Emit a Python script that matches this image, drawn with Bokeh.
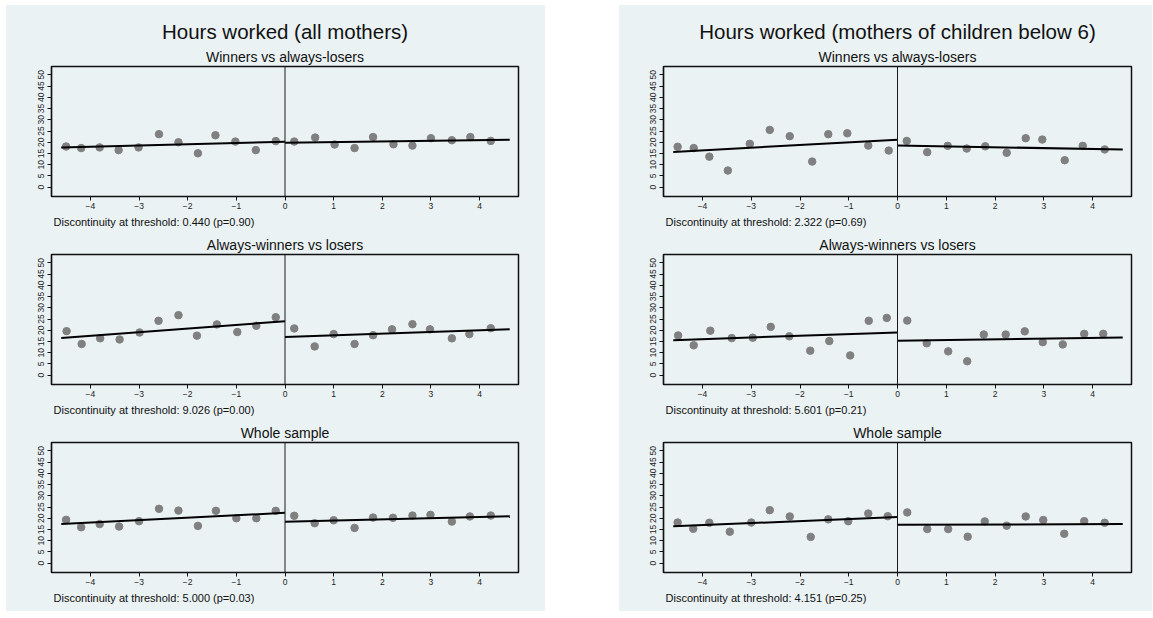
from bokeh.plotting import figure
from bokeh.layouts import row, column
from bokeh.models import Title, Span, FixedTicker, Spacer
from bokeh.embed import file_html
from bokeh.resources import INLINE

BG = "#EAF2F3"
FONT = "Liberation Sans"
DOT = "#808080"

# ---------------- data ----------------
panel_titles = ["Hours worked (all mothers)", "Hours worked (mothers of children below 6)"]
sub_titles = ["Winners vs always-losers", "Always-winners vs losers", "Whole sample"]
x_ticks = [-4, -3, -2, -1, 0, 1, 2, 3, 4]
y_ticks = [0, 5, 10, 15, 20, 25, 30, 35, 40, 45, 50]
fit_x_left = [-4.6, 0.0]
fit_x_right = [0.0, 4.62]

# all mothers
a1_xl = [-4.50, -4.19, -3.81, -3.42, -3.01, -2.59, -2.19, -1.79, -1.43, -1.02, -0.60, -0.19]
a1_yl = [18.1, 17.4, 17.7, 16.5, 17.7, 23.6, 20.0, 15.1, 23.1, 20.3, 16.5, 20.5]
a1_xr = [0.19, 0.62, 1.02, 1.43, 1.81, 2.23, 2.62, 3.00, 3.43, 3.81, 4.23]
a1_yr = [20.3, 22.1, 19.0, 17.4, 22.3, 19.1, 18.5, 21.8, 20.9, 22.3, 20.6]
a1_fit_l = [17.7, 20.2]
a1_fit_r = [19.8, 21.1]
a1_disc = "Discontinuity at threshold: 0.440 (p=0.90)"

a2_xl = [-4.49, -4.18, -3.80, -3.40, -2.99, -2.60, -2.19, -1.81, -1.40, -0.98, -0.59, -0.19]
a2_yl = [19.6, 13.9, 16.4, 15.9, 19.0, 24.2, 26.7, 17.6, 22.6, 19.2, 22.0, 25.8]
a2_xr = [0.19, 0.61, 1.00, 1.43, 1.81, 2.20, 2.62, 2.98, 3.43, 3.79, 4.23]
a2_yr = [20.8, 12.8, 18.3, 13.9, 17.8, 20.4, 22.7, 20.4, 16.4, 18.3, 20.9]
a2_fit_l = [16.5, 24.0]
a2_fit_r = [17.0, 20.4]
a2_disc = "Discontinuity at threshold: 9.026 (p=0.00)"

a3_xl = [-4.50, -4.19, -3.81, -3.41, -3.00, -2.59, -2.19, -1.79, -1.42, -1.00, -0.59, -0.19]
a3_yl = [19.3, 16.0, 17.4, 16.3, 18.7, 24.2, 23.4, 16.6, 23.3, 20.0, 20.0, 23.3]
a3_xr = [0.19, 0.61, 1.00, 1.43, 1.81, 2.22, 2.62, 2.99, 3.43, 3.80, 4.23]
a3_yr = [21.1, 17.8, 19.1, 15.7, 20.3, 20.2, 21.2, 21.5, 18.5, 20.8, 21.2]
a3_fit_l = [17.4, 22.4]
a3_fit_r = [18.4, 20.9]
a3_disc = "Discontinuity at threshold: 5.000 (p=0.03)"

# mothers of children below 6
b1_xl = [-4.51, -4.18, -3.86, -3.48, -3.03, -2.62, -2.21, -1.75, -1.42, -1.03, -0.60, -0.18]
b1_yl = [18.0, 17.4, 13.6, 7.4, 19.3, 25.5, 22.7, 11.4, 23.6, 24.0, 18.5, 16.3]
b1_xr = [0.19, 0.61, 1.03, 1.42, 1.80, 2.24, 2.63, 2.97, 3.43, 3.80, 4.25]
b1_yr = [20.6, 15.6, 18.4, 17.2, 18.2, 15.3, 21.8, 21.2, 12.0, 18.4, 16.8]
b1_fit_l = [15.7, 21.1]
b1_fit_r = [18.5, 16.8]
b1_disc = "Discontinuity at threshold: 2.322 (p=0.69)"

b2_xl = [-4.50, -4.18, -3.84, -3.40, -2.97, -2.60, -2.22, -1.79, -1.40, -0.97, -0.59, -0.22]
b2_yl = [17.7, 13.3, 19.8, 16.5, 16.7, 21.5, 17.3, 10.9, 15.2, 8.8, 24.2, 25.5]
b2_xr = [0.20, 0.60, 1.04, 1.43, 1.77, 2.22, 2.61, 2.98, 3.39, 3.83, 4.22]
b2_yr = [24.3, 14.2, 10.6, 6.2, 18.1, 18.1, 19.5, 14.7, 13.7, 18.4, 18.4]
b2_fit_l = [15.6, 19.0]
b2_fit_r = [15.3, 16.8]
b2_disc = "Discontinuity at threshold: 5.601 (p=0.21)"

b3_xl = [-4.51, -4.19, -3.86, -3.44, -3.00, -2.62, -2.21, -1.78, -1.42, -1.01, -0.60, -0.20]
b3_yl = [18.1, 15.3, 18.0, 14.0, 18.1, 23.6, 20.8, 11.7, 19.5, 18.7, 22.1, 20.9]
b3_xr = [0.20, 0.61, 1.04, 1.44, 1.79, 2.24, 2.63, 2.99, 3.42, 3.83, 4.25]
b3_yr = [22.6, 15.2, 15.2, 11.8, 18.6, 16.7, 20.8, 19.2, 13.1, 18.7, 18.0]
b3_fit_l = [16.4, 20.5]
b3_fit_r = [17.1, 17.4]
b3_disc = "Discontinuity at threshold: 4.151 (p=0.25)"


def make_sub(xl, yl, xr, yr, fit_l, fit_r, subtitle, disc, main=None,
             frame_w=467, left=45, right=27, top=20, bottom=37):
    p = figure(frame_width=frame_w, frame_height=130, x_range=(-4.8, 4.8),
               y_range=(-4.14, 53.7), output_backend="svg", toolbar_location=None,
               title=None, min_border_left=left, min_border_right=right,
               min_border_top=top, min_border_bottom=bottom)
    p.background_fill_color = BG
    p.border_fill_color = BG
    p.outline_line_color = "#111111"
    p.outline_line_width = 1.5
    p.grid.visible = False

    p.add_layout(Title(text=subtitle, align="center", text_font=FONT,
                       text_font_size="14px", text_font_style="normal",
                       text_color="#111111", standoff=3), "above")
    if main is not None:
        p.add_layout(Title(text=main, align="center", text_font=FONT,
                           text_font_size="20.5px", text_font_style="normal",
                           text_color="#111111", standoff=6), "above")
    p.add_layout(Title(text=disc, align="left", text_font=FONT,
                       text_font_size="11px", text_font_style="normal",
                       text_color="#111111", standoff=5, offset=2), "below")

    for ax in (p.xaxis[0], p.yaxis[0]):
        ax.axis_line_color = "#111111"
        ax.axis_line_width = 1.2
        ax.major_tick_line_color = "#111111"
        ax.major_tick_out = 4
        ax.major_tick_in = 0
        ax.minor_tick_line_color = None
        ax.major_label_text_font = FONT
        ax.major_label_text_font_size = "8.5px"
        ax.major_label_text_color = "#222222"
        ax.major_label_standoff = 2
    p.xaxis[0].ticker = FixedTicker(ticks=x_ticks)
    p.yaxis[0].ticker = FixedTicker(ticks=y_ticks)
    p.yaxis[0].major_label_orientation = "vertical"
    p.yaxis[0].major_label_standoff = 3

    p.add_layout(Span(location=0, dimension="height", line_color="#1a1a1a", line_width=1))

    p.scatter(xl, yl, size=7.5, color=DOT, line_color=DOT)
    p.scatter(xr, yr, size=7.5, color=DOT, line_color=DOT)
    p.line(fit_x_left, fit_l, line_color="black", line_width=2)
    p.line(fit_x_right, fit_r, line_color="black", line_width=2)
    return p


# left column
pa1 = make_sub(a1_xl, a1_yl, a1_xr, a1_yr, a1_fit_l, a1_fit_r, sub_titles[0], a1_disc,
               main=panel_titles[0], top=61, bottom=37)
pa2 = make_sub(a2_xl, a2_yl, a2_xr, a2_yr, a2_fit_l, a2_fit_r, sub_titles[1], a2_disc,
               top=20, bottom=37)
pa3 = make_sub(a3_xl, a3_yl, a3_xr, a3_yr, a3_fit_l, a3_fit_r, sub_titles[2], a3_disc,
               top=21, bottom=39)

# right column
pb1 = make_sub(b1_xl, b1_yl, b1_xr, b1_yr, b1_fit_l, b1_fit_r, sub_titles[0], b1_disc,
               main=panel_titles[1], frame_w=468, left=44, right=21, top=61, bottom=37)
pb2 = make_sub(b2_xl, b2_yl, b2_xr, b2_yr, b2_fit_l, b2_fit_r, sub_titles[1], b2_disc,
               frame_w=468, left=44, right=21, top=20, bottom=37)
pb3 = make_sub(b3_xl, b3_yl, b3_xr, b3_yr, b3_fit_l, b3_fit_r, sub_titles[2], b3_disc,
               frame_w=468, left=44, right=21, top=21, bottom=39)

panel_style = {"background-color": BG}
left_panel = column(pa1, pa2, pa3, spacing=0, styles=panel_style)
right_panel = column(pb1, pb2, pb3, spacing=0, styles=panel_style)
left_col = column(Spacer(height=5, width=10), left_panel, spacing=0)
right_col = column(Spacer(height=5, width=10), right_panel, spacing=0)
layout = row(Spacer(width=6, height=10), left_col, Spacer(width=74, height=10),
             right_col, spacing=0)

open("out.html", "w").write(file_html(layout, INLINE))
